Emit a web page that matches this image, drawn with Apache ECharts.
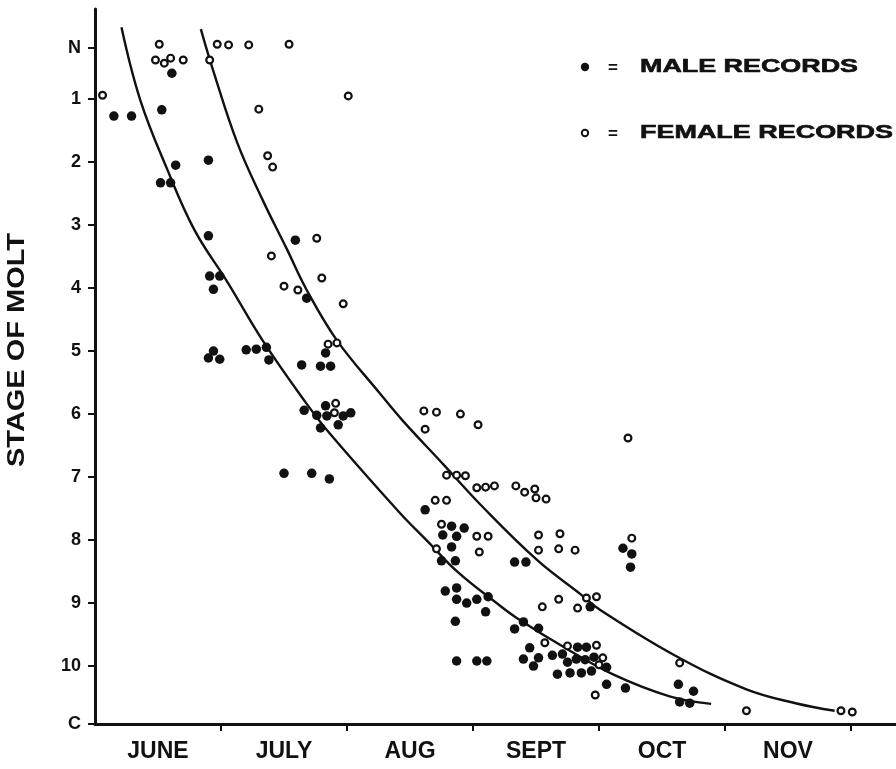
<!DOCTYPE html>
<html><head><meta charset="utf-8">
<script src="https://cdn.jsdelivr.net/npm/echarts@6/dist/echarts.min.js"></script>
<style>html,body{margin:0;padding:0;background:#fff}#c{width:896px;height:769px}</style>
</head><body><div id="c"></div>
<script>
// x: months since 1 June; y: stage of molt (N ≈ 0.19, C ≈ 10.92)
const monthLabels = ['JUNE','JULY','AUG','SEPT','OCT','NOV'];
const monthLabelPos = [0.5,1.5,2.5,3.5,4.5,5.5];
const monthBoundaries = [1,2,3,4,5,6];
const stageTickValues = [0.19,1,2,3,4,5,6,7,8,9,10,10.92];
const stageTickLabels = ['N','1','2','3','4','5','6','7','8','9','10','C'];

const maleRecords = [
[0.15,1.27],[0.29,1.27],[0.61,0.59],[0.53,1.17],[0.64,2.05],[0.52,2.33],[0.60,2.33],[0.90,1.97],[0.90,3.17],[1.59,3.24],
[0.91,3.81],[0.99,3.81],[0.94,4.02],[1.68,4.16],[0.94,5.00],[0.90,5.11],[0.99,5.13],[1.20,4.98],[1.28,4.97],[1.36,4.94],
[1.38,5.14],[1.64,5.22],[1.79,5.24],[1.87,5.24],[1.83,5.03],[1.66,5.94],[1.83,5.87],[1.76,6.02],[1.84,6.03],[1.97,6.03],
[2.03,5.98],[1.93,6.17],[1.79,6.22],[1.50,6.94],[1.72,6.94],[1.86,7.03],[2.62,7.52],[2.83,7.78],[2.93,7.81],[2.76,7.92],
[2.87,7.94],[2.83,8.11],[2.75,8.33],[2.86,8.33],[3.33,8.35],[3.42,8.35],[2.78,8.81],[2.87,8.76],[2.87,8.94],[2.95,9.00],
[3.03,8.94],[3.12,8.90],[3.10,9.14],[2.86,9.29],[3.33,9.41],[3.40,9.30],[3.52,9.40],[2.87,9.92],[3.03,9.92],[3.11,9.92],
[3.45,9.71],[3.40,9.89],[3.52,9.87],[3.48,10.00],[3.63,9.83],[3.83,9.70],[3.90,9.70],[3.71,9.81],[3.75,9.94],[3.82,9.89],
[3.89,9.90],[3.96,9.86],[4.06,10.02],[3.94,10.08],[3.67,10.13],[3.77,10.11],[3.86,10.11],[4.06,10.29],[4.21,10.35],[3.93,9.06],
[4.19,8.13],[4.26,8.22],[4.25,8.43],[4.63,10.29],[4.75,10.40],[4.64,10.57],[4.72,10.59]
];

const femaleRecords = [
[0.06,0.94],[0.51,0.13],[0.48,0.38],[0.55,0.43],[0.60,0.35],[0.70,0.38],[0.91,0.38],[0.97,0.13],[1.06,0.14],[1.22,0.14],
[1.54,0.13],[1.30,1.16],[2.01,0.95],[1.37,1.90],[1.41,2.08],[1.40,3.49],[1.76,3.21],[1.50,3.97],[1.61,4.03],[1.80,3.84],
[1.97,4.25],[1.85,4.89],[1.92,4.87],[1.91,5.83],[1.90,5.98],[2.61,5.95],[2.71,5.97],[2.90,6.00],[3.04,6.17],[2.62,6.24],
[2.79,6.97],[2.87,6.97],[2.94,6.98],[3.03,7.17],[3.10,7.16],[3.17,7.14],[3.34,7.14],[3.41,7.24],[3.49,7.19],[3.50,7.33],
[3.58,7.35],[2.70,7.37],[2.79,7.37],[2.75,7.75],[3.03,7.94],[3.12,7.94],[2.71,8.14],[3.05,8.19],[3.52,7.92],[3.69,7.90],
[3.52,8.16],[3.68,8.14],[3.81,8.16],[4.26,7.97],[4.23,6.38],[3.90,8.92],[3.98,8.90],[3.83,9.08],[3.68,8.94],[3.55,9.06],
[3.57,9.63],[3.75,9.68],[3.98,9.67],[4.03,9.87],[4.00,9.98],[3.97,10.46],[4.64,9.95],[5.17,10.71],[5.92,10.71],[6.01,10.73]
];

const maleCurve = [
[0.21,-0.14],[0.36,1.02],[0.57,2.10],[0.79,3.08],[1.05,3.90],[1.33,4.83],[1.67,5.81],[1.86,6.30],[2.42,7.57],
[2.64,8.02],[2.88,8.51],[3.20,9.02],[3.35,9.24],[3.73,9.71],[4.12,10.14],[4.56,10.48],[4.89,10.60]
];
const femaleCurve = [
[0.84,-0.11],[0.94,0.56],[1.13,1.70],[1.33,2.60],[1.52,3.37],[1.68,4.03],[1.92,4.83],[2.26,5.67],[2.44,6.10],
[2.77,6.81],[3.06,7.44],[3.51,8.32],[3.86,8.87],[4.01,9.11],[4.61,9.84],[5.17,10.37],[5.56,10.59],[5.87,10.71]
];

const legendNames = ['MALE RECORDS','FEMALE RECORDS'];
const yTitle = 'STAGE OF MOLT';

const INK = '#111';
const FONT = '"Liberation Sans", Arial, sans-serif';

function textWidth(str, font){
  const c = document.createElement('canvas').getContext('2d');
  c.font = font; return c.measureText(str).width;
}
const legendFont = 'bold 18px ' + FONT;
const titleFont = 'bold 23px ' + FONT;
const maleScale = 218 / textWidth(legendNames[0], legendFont);
const femaleScale = 253 / textWidth(legendNames[1], legendFont);
const titleScale = 234 / textWidth(yTitle, titleFont);

const chart = echarts.init(document.getElementById('c'), null, {renderer:'canvas'});
chart.setOption({
  animation:false,
  backgroundColor:'#fff',
  grid:{left:95, right:0, top:9, bottom:45, outerBoundsMode:'none'},
  xAxis:{
    type:'value', position:'bottom', min:0, max:6.357,
    axisLine:{onZero:false, lineStyle:{color:INK, width:3}},
    axisTick:{show:true, customValues:monthBoundaries, length:7, inside:false, lineStyle:{color:INK, width:2}},
    axisLabel:{customValues:monthLabelPos, margin:16, color:INK, fontFamily:FONT, fontWeight:'bold', fontSize:23,
      formatter:v => monthLabels[Math.round(v - 0.5)]},
    splitLine:{show:false}
  },
  yAxis:{
    type:'value', inverse:true, min:-0.43, max:10.92,
    axisLine:{show:true, onZero:false, lineStyle:{color:INK, width:3}},
    axisTick:{show:true, customValues:stageTickValues, length:7, inside:false, lineStyle:{color:INK, width:2}},
    axisLabel:{customValues:stageTickValues, margin:14, color:INK, fontFamily:FONT, fontWeight:'bold', fontSize:18,
      formatter:v => { let i = 0, d = 1e9; stageTickValues.forEach((t,k)=>{ if(Math.abs(t-v)<d){d=Math.abs(t-v); i=k;} }); return stageTickLabels[i]; }},
    splitLine:{show:false}
  },
  series:[
    {name:'male curve', type:'line', data:maleCurve, smooth:0.4, symbol:'none', silent:true, z:1,
      lineStyle:{color:INK, width:2.4}},
    {name:'female curve', type:'line', data:femaleCurve, smooth:0.4, symbol:'none', silent:true, z:1,
      lineStyle:{color:INK, width:2.4}},
    {name:legendNames[0], type:'scatter', data:maleRecords, symbol:'circle', symbolSize:9.5, z:3,
      itemStyle:{color:INK, opacity:1}},
    {name:legendNames[1], type:'scatter', data:femaleRecords, symbol:'circle', symbolSize:6.8, z:4,
      itemStyle:{color:'#fff', borderColor:INK, borderWidth:2.2, opacity:1}}
  ],
  graphic:[
    {type:'text', x:18, y:350, rotation:Math.PI/2, scaleX:titleScale,
      style:{text:yTitle, font:titleFont, fill:INK, align:'center', verticalAlign:'middle'}},
    {type:'circle', shape:{cx:585, cy:67, r:4.2}, style:{fill:INK}},
    {type:'text', x:613, y:68, style:{text:'=', font:'bold 17px ' + FONT, fill:INK, align:'center', verticalAlign:'middle'}},
    {type:'text', x:640, y:67, scaleX:maleScale, style:{text:legendNames[0], font:legendFont, fill:INK, align:'left', verticalAlign:'middle', stroke:INK, lineWidth:0.6}},
    {type:'circle', shape:{cx:585, cy:133, r:3.2}, style:{fill:'#fff', stroke:INK, lineWidth:2}},
    {type:'text', x:613, y:134, style:{text:'=', font:'bold 17px ' + FONT, fill:INK, align:'center', verticalAlign:'middle'}},
    {type:'text', x:640, y:133, scaleX:femaleScale, style:{text:legendNames[1], font:legendFont, fill:INK, align:'left', verticalAlign:'middle', stroke:INK, lineWidth:0.6}}
  ]
});
</script></body></html>
